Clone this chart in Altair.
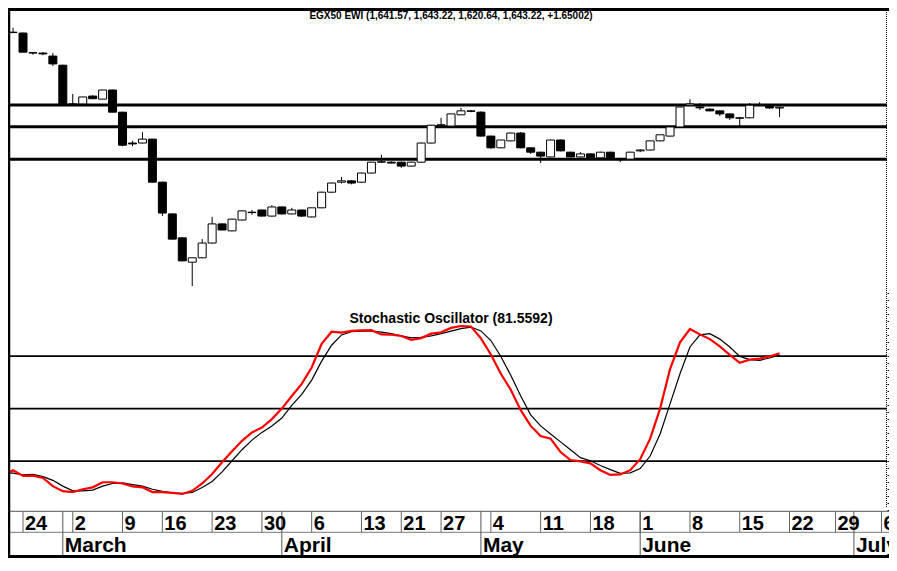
import altair as alt
import pandas as pd

# ---------------- data ----------------
# daily candles, trading-day index 0..77 (Feb 23 .. Jun 21)
OPEN = [1815, 1814, 1769, 1768, 1761, 1740, 1651, 1651, 1669, 1662,
        1683, 1632, 1561, 1561, 1570, 1471, 1398, 1343, 1287, 1297,
        1331, 1375, 1359, 1384, 1402, 1407, 1393, 1414, 1398, 1407,
        1391, 1412, 1448, 1471, 1474, 1471, 1492, 1517, 1517, 1517,
        1508, 1517, 1561, 1602, 1600, 1626, 1635, 1632, 1577, 1550,
        1566, 1584, 1550, 1540, 1529, 1568, 1540, 1529, 1536, 1527,
        1540, 1524, 1524, 1543, 1545, 1566, 1577, 1598, 1648, 1644,
        1639, 1635, 1628, 1619, 1619, 1648, 1646, 1641.57]
HIGH = [1826, 1815, 1770, 1770, 1768, 1741, 1674, 1667, 1671, 1683,
        1684, 1633, 1566, 1586, 1571, 1472, 1399, 1344, 1297, 1340,
        1391, 1376, 1387, 1406, 1407, 1408, 1418, 1415, 1412, 1408,
        1412, 1449, 1470, 1483, 1476, 1493, 1518, 1534, 1519, 1518,
        1518, 1562, 1603, 1619, 1628, 1642, 1637, 1634, 1578, 1568,
        1585, 1586, 1551, 1541, 1569, 1569, 1541, 1540, 1537, 1541,
        1541, 1527, 1541, 1547, 1566, 1580, 1598, 1644, 1662, 1653,
        1641, 1636, 1629, 1621, 1653, 1655, 1648, 1643.22]
LOW = [1814, 1770, 1764, 1763, 1738, 1650, 1648, 1650, 1662, 1662,
       1632, 1554, 1554, 1560, 1470, 1393, 1339, 1289, 1232, 1296,
       1330, 1360, 1358, 1383, 1396, 1392, 1392, 1397, 1397, 1391,
       1390, 1411, 1447, 1468, 1466, 1470, 1491, 1515, 1514, 1504,
       1507, 1516, 1560, 1598, 1599, 1625, 1632, 1576, 1548, 1549,
       1565, 1549, 1536, 1515, 1528, 1542, 1528, 1528, 1526, 1526,
       1526, 1517, 1523, 1540, 1544, 1565, 1576, 1597, 1646, 1637,
       1634, 1623, 1614, 1600, 1618, 1646, 1640, 1620.64]
CLOSE = [1816, 1770, 1768, 1766, 1743, 1651, 1650, 1667, 1663, 1683,
         1632, 1556, 1559, 1570, 1471, 1400, 1340, 1290, 1297, 1331,
         1375, 1361, 1386, 1405, 1401, 1393, 1414, 1398, 1407, 1393,
         1412, 1448, 1469, 1474, 1469, 1492, 1517, 1518, 1515, 1508,
         1517, 1561, 1602, 1603, 1628, 1635, 1634, 1577, 1550, 1568,
         1584, 1550, 1540, 1531, 1568, 1543, 1529, 1536, 1527, 1540,
         1527, 1523, 1540, 1545, 1566, 1580, 1598, 1644, 1651, 1642,
         1635, 1628, 1619, 1618, 1648, 1649, 1641.57, 1643.22]

# stochastic oscillator, trading-day index -1..77
STOCH_START = -1
K_LINE = [11.5, 14.8, 11.5, 11.7, 10.4, 5.7, 2.8, 2.3, 3.9, 5.0, 7.9,
          7.9, 7.2, 5.6, 5.0, 2.3, 2.3, 1.8, 1.2, 3.0, 7.2,
          12.6, 19.3, 25.6, 31.6, 36.4, 39.2, 44.0, 50.0, 57.2, 64.1,
          73.5, 87.0, 93.9, 93.4, 94.4, 94.7, 94.8, 92.4, 92.3, 91.5,
          89.3, 90.3, 92.8, 93.6, 96.1, 97.2, 96.9, 90.1, 80.9, 69.9,
          60.8, 49.1, 40.1, 34.3, 32.8, 25.2, 20.6, 19.8, 18.7, 14.8,
          12.1, 12.4, 14.8, 21.1, 32.8, 50.0, 72.6, 87.9, 95.5, 92.4,
          89.7, 85.6, 80.7, 76.2, 78.0, 78.6, 79.8, 81.5592]
D_LINE = [13.4, 13.1, 12.1, 12.4, 11.1, 9.0, 5.7, 3.0, 3.0, 3.4, 5.7,
          7.2, 7.6, 6.6, 5.7, 3.9, 2.7, 1.8, 1.6, 2.1, 4.9,
          8.4, 13.8, 20.2, 26.5, 32.0, 36.4, 40.1, 44.6, 51.8, 58.1,
          66.3, 77.1, 86.2, 92.1, 93.9, 94.3, 94.3, 93.7, 92.8, 91.6,
          90.4, 90.7, 91.6, 92.8, 94.3, 95.7, 96.6, 94.4, 88.9, 79.8,
          69.0, 57.2, 46.4, 40.1, 35.5, 31.0, 26.5, 22.0, 20.2, 17.5,
          15.1, 13.0, 13.3, 15.7, 22.9, 35.5, 52.7, 69.9, 85.2, 92.1,
          92.8, 89.7, 85.2, 79.8, 78.0, 77.6, 78.9, 80.7]

PRICE_LEVELS = [1648.5, 1598.6, 1523.6]
STOCH_LEVELS = [80, 50, 20]
STOCH_TICKS = list(range(-8, 117, 4))

WEEK_LABELS = ["24", "2", "9", "16", "23", "30", "6", "13", "21", "27",
               "4", "11", "18", "1", "8", "15", "22", "29", "6"]
WEEK_POS = [1, 6, 11, 15, 20, 25, 30, 35, 39, 43,
            48, 53, 58, 63, 68, 73, 78, 83, 88]
MONTH_LABELS = ["March", "April", "May", "June", "July"]
MONTH_POS = [5, 27, 47, 63, 85]

TITLE = "EGX50 EWI (1,641.57, 1,643.22, 1,620.64, 1,643.22, +1.65002)"
STOCH_TITLE = "Stochastic Oscillator (81.5592)"

# ---------------- layout ----------------
W, H = 879, 550
# piecewise x scale: exact day spacing over the data, slightly tighter over the empty future
X_DOMAIN = [-0.507, 78, 88.6]
X_RANGE = [0, 781.5, 879]
PRICE_DOMAIN = [606.6, 1871.6]
STOCH_DOMAIN = [-35.37, 278.9]
FONT = "Liberation Sans"

# vertical positions of the date-axis decoration (pixels from the plot top)
AX_TOP, AX_MID, AX_BOT = 503.3, 524.3, 548.5
DAY_BASE, MONTH_BASE = 522.3, 544.0

xs = alt.Scale(domain=X_DOMAIN, range=X_RANGE, nice=False, zero=False, padding=0)
ps = alt.Scale(domain=PRICE_DOMAIN, nice=False, zero=False, padding=0)
ss = alt.Scale(domain=STOCH_DOMAIN, nice=False, zero=False, padding=0)

candles = pd.DataFrame({"i": list(range(len(OPEN))), "open": OPEN, "high": HIGH,
                        "low": LOW, "close": CLOSE})
candles["fill"] = ["#000000" if c < o else "#ffffff" for o, c in zip(OPEN, CLOSE)]
stoch = pd.DataFrame({"i": list(range(STOCH_START, STOCH_START + len(K_LINE))),
                      "k": K_LINE, "d": D_LINE})
plev = pd.DataFrame({"p": PRICE_LEVELS})
slev = pd.DataFrame({"s": STOCH_LEVELS})
sticks = pd.DataFrame({"s": STOCH_TICKS})
weeks = pd.DataFrame({"pos": WEEK_POS, "label": WEEK_LABELS})
months = pd.DataFrame({"pos": MONTH_POS, "label": MONTH_LABELS})
one = pd.DataFrame({"a": [0]})


def X(f):
    return alt.X(f, type="quantitative", scale=xs, axis=None)


price_lines = alt.Chart(plev).mark_rule(color="black", strokeWidth=3).encode(
    y=alt.Y("p:Q", scale=ps, axis=None))
stoch_lines = alt.Chart(slev).mark_rule(color="black", strokeWidth=1.7).encode(
    y=alt.Y("s:Q", scale=ss, axis=None))
stoch_axis = alt.Chart(sticks).mark_point(opacity=0).encode(
    y=alt.Y("s:Q", scale=ss,
            axis=alt.Axis(orient="right", values=STOCH_TICKS, labels=False, domain=False,
                          ticks=True, tickSize=3, tickColor="black", grid=False, title=None)),
    x=alt.value(878))

wicks = alt.Chart(candles).mark_rule(color="black", strokeWidth=1).encode(
    x=X("i"), y=alt.Y("low:Q", scale=ps, axis=None), y2="high:Q")
bodies = alt.Chart(candles).mark_bar(width=8, stroke="black", strokeWidth=1).encode(
    x=X("i"), y=alt.Y("open:Q", scale=ps, axis=None), y2="close:Q",
    fill=alt.Fill("fill:N", scale=None))

d_line = alt.Chart(stoch).mark_line(color="black", strokeWidth=1.2, clip=True).encode(
    x=X("i"), y=alt.Y("d:Q", scale=ss, axis=None))
k_line = alt.Chart(stoch).mark_line(color="#ff0000", strokeWidth=2.2, clip=True).encode(
    x=X("i"), y=alt.Y("k:Q", scale=ss, axis=None))

# date axis boxes
axis_h1 = alt.Chart(one).mark_rule(color="#555555", strokeWidth=1).encode(
    x=alt.value(0), x2=alt.value(W + 2), y=alt.value(AX_TOP))
axis_h2 = alt.Chart(one).mark_rule(color="#777777", strokeWidth=1).encode(
    x=alt.value(0), x2=alt.value(W + 2), y=alt.value(AX_MID))
week_rules = alt.Chart(weeks).mark_rule(color="#666666", strokeWidth=1).encode(
    x=X("pos"), y=alt.value(AX_TOP), y2=alt.value(AX_MID))
month_rules = alt.Chart(months).mark_rule(color="#555555", strokeWidth=1).encode(
    x=X("pos"), y=alt.value(AX_TOP), y2=alt.value(AX_BOT - 1.5))
week_text = alt.Chart(weeks).mark_text(align="left", baseline="alphabetic", dx=2,
                                       font=FONT, fontSize=20, fontWeight="bold",
                                       color="black").encode(
    x=X("pos"), y=alt.value(DAY_BASE), text="label:N")
month_text = alt.Chart(months).mark_text(align="left", baseline="alphabetic", dx=2,
                                         font=FONT, fontSize=21, fontWeight="bold",
                                         color="black").encode(
    x=X("pos"), y=alt.value(MONTH_BASE), text="label:N")

title_t = alt.Chart(one).mark_text(align="center", baseline="alphabetic", font=FONT,
                                   fontSize=10, fontWeight="bold", color="black").encode(
    x=alt.value(443), y=alt.value(10.5), text=alt.value(TITLE))
stoch_t = alt.Chart(one).mark_text(align="center", baseline="alphabetic", font=FONT,
                                   fontSize=14, fontWeight="bold", color="black").encode(
    x=alt.value(443), y=alt.value(315.2), text=alt.value(STOCH_TITLE))

# frame
top_b = alt.Chart(one).mark_rule(color="black", strokeWidth=3).encode(
    x=alt.value(0), x2=alt.value(W + 2), y=alt.value(1.5))
left_b = alt.Chart(one).mark_rule(color="black", strokeWidth=2.5).encode(
    x=alt.value(1), y=alt.value(0), y2=alt.value(H))
bottom_b = alt.Chart(one).mark_rule(color="black", strokeWidth=3).encode(
    x=alt.value(0), x2=alt.value(W + 2), y=alt.value(AX_BOT))
right_b = alt.Chart(one).mark_rule(color="black", strokeWidth=1, strokeDash=[1, 1]).encode(
    x=alt.value(878.5), y=alt.value(0), y2=alt.value(500))

chart = alt.layer(
    price_lines, stoch_lines, stoch_axis, wicks, bodies, d_line, k_line,
    axis_h1, axis_h2, week_rules, month_rules, week_text, month_text,
    title_t, stoch_t, top_b, left_b, bottom_b, right_b,
).resolve_scale(y="independent").properties(
    width=W, height=H,
    autosize=alt.AutoSizeParams(type="none"),
    padding={"left": 0, "top": 0, "right": 2, "bottom": 0},
    background="white",
).configure_view(stroke=None)

chart.save("out.html", embed_options={"renderer": "svg", "actions": False})
